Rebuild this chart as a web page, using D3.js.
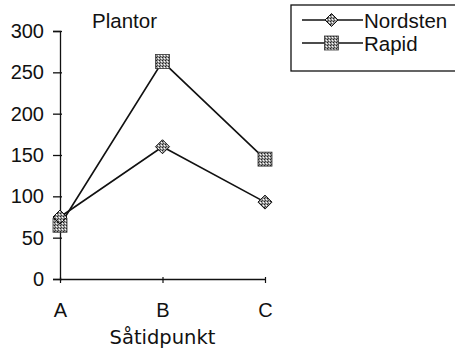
<!DOCTYPE html>
<html>
<head>
<meta charset="utf-8">
<script src="https://cdn.jsdelivr.net/npm/d3@7"></script>
<style>
  body { margin: 0; background: #fff; }
  svg { display: block; }
</style>
</head>
<body>
<svg id="chart" width="455" height="351"></svg>
<script>
// Plant counts per sowing time for two varieties
const categories = ["A", "B", "C"];
const nordsten = [75, 160, 93];
const rapid = [65, 263, 145];
const yTicks = [0, 50, 100, 150, 200, 250, 300];
const seriesNames = ["Nordsten", "Rapid"];

const svg = d3.select("#chart");
const font = "'Liberation Sans', Arial, Helvetica, sans-serif";

// pattern fill for the markers
const defs = svg.append("defs");
const pat = defs.append("pattern")
  .attr("id", "hatch").attr("width", 3).attr("height", 3)
  .attr("patternUnits", "userSpaceOnUse");
pat.append("rect").attr("width", 3).attr("height", 3).attr("fill", "#9a9a9a");
pat.append("rect").attr("width", 1).attr("height", 1).attr("fill", "#222");
pat.append("rect").attr("x", 2).attr("y", 1).attr("width", 1).attr("height", 1).attr("fill", "#fff");
pat.append("rect").attr("x", 1).attr("y", 2).attr("width", 1).attr("height", 1).attr("fill", "#444");

const x = d3.scalePoint().domain(categories).range([60, 265]);
const y = d3.scaleLinear().domain([0, 300]).range([279, 31]);

// y axis
const yAxis = svg.append("g").attr("transform", "translate(60,0)")
  .call(d3.axisLeft(y).tickValues(yTicks).tickSize(7).tickPadding(9));
yAxis.select(".domain").attr("stroke", "#111").attr("stroke-width", 1.3);
yAxis.selectAll(".tick line").attr("stroke", "#111").attr("stroke-width", 1.3).attr("x2", -7).attr("x1", 2);
yAxis.selectAll(".tick text").attr("font-family", font).attr("font-size", 20).attr("fill", "#111");

// x axis
const xAxis = svg.append("g").attr("transform", "translate(0,279)")
  .call(d3.axisBottom(x).tickSize(4).tickSizeOuter(0).tickPadding(20));
xAxis.select(".domain").attr("stroke", "#111").attr("stroke-width", 1.3);
xAxis.selectAll(".tick line").attr("stroke", "#111").attr("stroke-width", 1.2).attr("y1", -2);
xAxis.selectAll(".tick text").attr("font-family", font).attr("font-size", 20).attr("fill", "#111");

// axis title and chart label
svg.append("text").attr("x", 162.5).attr("y", 344).attr("text-anchor", "middle")
  .attr("font-family", "'DejaVu Sans', Verdana, sans-serif").attr("font-size", 19.5)
  .attr("fill", "#111").text("Såtidpunkt");
svg.append("text").attr("x", 92).attr("y", 28)
  .attr("font-family", font).attr("font-size", 20.5).attr("fill", "#111").text("Plantor");

const line = d3.line().x((d, i) => x(categories[i])).y(d => y(d));

function diamond(g, cx, cy, r) {
  g.append("path")
    .attr("d", `M${cx},${cy - r}L${cx + r},${cy}L${cx},${cy + r}L${cx - r},${cy}Z`)
    .attr("fill", "url(#hatch)").attr("stroke", "#111").attr("stroke-width", 1);
}
function square(g, cx, cy, r) {
  g.append("rect").attr("x", cx - r).attr("y", cy - r)
    .attr("width", 2 * r).attr("height", 2 * r)
    .attr("fill", "url(#hatch)").attr("stroke", "#333").attr("stroke-width", 0.8);
}

const plot = svg.append("g");
plot.append("path").datum(rapid).attr("d", line)
  .attr("fill", "none").attr("stroke", "#111").attr("stroke-width", 1.6);
plot.append("path").datum(nordsten).attr("d", line)
  .attr("fill", "none").attr("stroke", "#111").attr("stroke-width", 1.6);
rapid.forEach((v, i) => square(plot, x(categories[i]), y(v), 7));
nordsten.forEach((v, i) => diamond(plot, x(categories[i]), y(v), 7));

// legend
const lg = svg.append("g");
lg.append("rect").attr("x", 291).attr("y", 5).attr("width", 170).attr("height", 66)
  .attr("fill", "#fff").attr("stroke", "#111").attr("stroke-width", 1.3);
seriesNames.forEach((name, i) => {
  const cy = 20 + i * 23;
  lg.append("line").attr("x1", 302).attr("x2", 363).attr("y1", cy).attr("y2", cy)
    .attr("stroke", "#111").attr("stroke-width", 1.3);
  if (i === 0) diamond(lg, 331.5, cy, 6.5); else square(lg, 331.5, cy, 7);
  lg.append("text").attr("x", 364).attr("y", cy + 7.5)
    .attr("font-family", font).attr("font-size", 20.5).attr("fill", "#111").text(name);
});
</script>
</body>
</html>
